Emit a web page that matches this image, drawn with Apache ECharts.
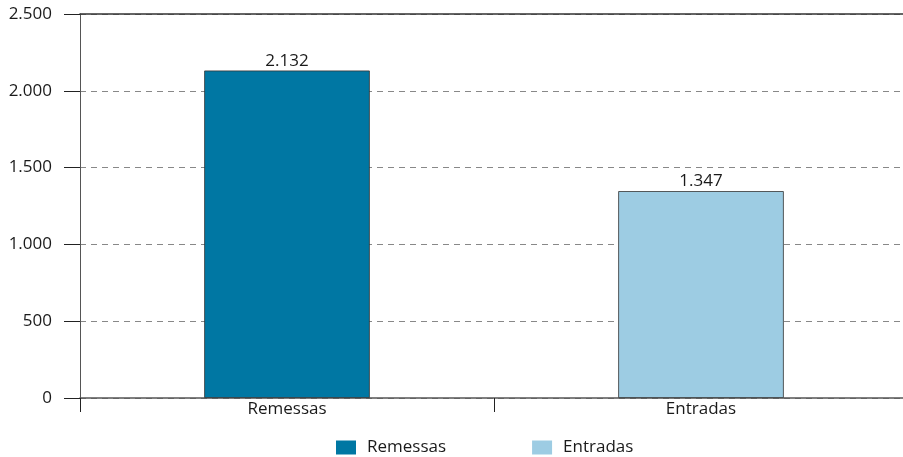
<!DOCTYPE html>
<html>
<head>
<meta charset="utf-8">
<script src="https://cdn.jsdelivr.net/npm/echarts@6/dist/echarts.min.js"></script>
<style>
html, body { margin: 0; padding: 0; background: #fff; }
#chart { width: 903px; height: 457px; }
</style>
</head>
<body>
<div id="chart"></div>
<script>
// dados
const categories = ['Remessas', 'Entradas']
const seriesNames = ['Remessas', 'Entradas']
const remessas = [2132, '-']
const entradas = ['-', 1347]
const colors = ['#0077a3', '#9dcce3']

// separador de milhar com ponto
function fmt (v) {
    return String(v).replace(/\B(?=(\d{3})+(?!\d))/g, '.')
}

const chart = echarts.init(document.getElementById('chart'))

const barLabel = {
    show: true,
    position: 'top',
    distance: 1,
    color: '#1a1a1a',
    fontSize: 17,
    fontFamily: 'Open Sans',
    formatter: p => fmt(p.value)
}

const option = {
    animation: false,
    textStyle: { fontFamily: 'Open Sans' },
    grid: { left: 80, width: 828, top: 14, bottom: 59, outerBoundsMode: 'none' },
    legend: {
        left: 331,
        top: 434,
        itemWidth: 20,
        itemHeight: 14,
        itemGap: 86,
        icon: 'rect',
        itemStyle: { borderWidth: 0 },
        textStyle: { fontSize: 17, color: '#1a1a1a', fontFamily: 'Open Sans', padding: [0, 0, 0, 6] },
        data: seriesNames
    },
    xAxis: [{
        type: 'category',
        data: categories,
        axisLine: { lineStyle: { color: '#555', width: 1.5 } },
        axisTick: { show: true, length: 14, lineStyle: { color: '#222' } },
        axisLabel: { color: '#1a1a1a', fontSize: 17, margin: 3 }
    }, {
        type: 'category',
        position: 'top',
        data: categories,
        axisLine: { show: true, lineStyle: { color: '#333', width: 1.5 } },
        axisTick: { show: false },
        axisLabel: { show: false }
    }],
    yAxis: {
        type: 'value',
        min: 0,
        max: 2500,
        interval: 500,
        axisLine: { show: true, lineStyle: { color: '#555' } },
        axisTick: { show: true, length: 16, lineStyle: { color: '#222' } },
        axisLabel: { color: '#1a1a1a', fontSize: 17, margin: 28, formatter: v => fmt(v) },
        splitLine: { lineStyle: { type: [6, 5], color: '#888' } }
    },
    series: [{
        name: seriesNames[0],
        type: 'bar',
        stack: 'total',
        barWidth: '40%',
        data: remessas,
        itemStyle: { color: colors[0], borderColor: '#333', borderWidth: 0.8 },
        label: barLabel
    }, {
        name: seriesNames[1],
        type: 'bar',
        stack: 'total',
        barWidth: '40%',
        data: entradas,
        itemStyle: { color: colors[1], borderColor: '#333', borderWidth: 0.8 },
        label: barLabel
    }]
}

chart.setOption(option)
</script>
</body>
</html>
